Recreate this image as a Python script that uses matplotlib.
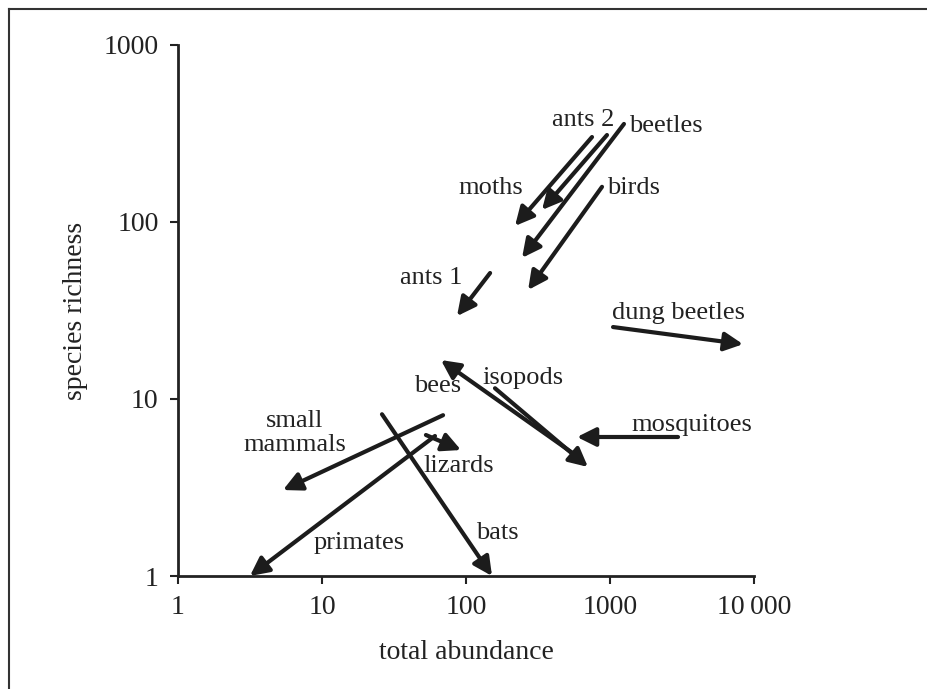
import matplotlib
matplotlib.use('Agg')
import matplotlib.pyplot as plt
from matplotlib.lines import Line2D

plt.rcParams['font.family'] = ['Liberation Serif', 'DejaVu Serif']

# arrow data: tail -> head (total abundance, species richness)
groups = ['ants 2', 'moths', 'beetles', 'birds', 'ants 1', 'dung beetles',
          'mosquitoes', 'bees', 'isopods', 'small\nmammals', 'primates',
          'lizards', 'bats']
tail_x = [750, 953, 1250, 880, 147, 1050, 2966, 560, 159, 69.3, 60.9, 52.7, 26.1]
tail_y = [302, 310, 358, 158, 51.5, 25.5, 6.1, 4.9, 11.5, 8.1, 6.18, 6.26, 8.2]
head_x = [219, 337, 245, 270, 86.6, 8390, 590, 67, 703, 5.36, 3.16, 92.3, 151.6]
head_y = [95, 117, 62.7, 41.3, 29.4, 20.4, 6.1, 16.6, 4.13, 3.06, 1.0, 5.15, 1.0]

# where each label sits
label_x = [649, 149, 2450, 1445, 57.1, 3013, 3709, 63.9, 249, 6.49, 18.1, 89.4, 164]
label_y = [377, 156, 349, 156, 48.3, 30.6, 7.13, 11.8, 13.1, 6.43, 1.54, 4.18, 1.75]

xticks = [1, 10, 100, 1000, 10000]
xtick_labels = ['1', '10', '100', '1000', '10\u2009000']
yticks = [1, 10, 100, 1000]
ytick_labels = ['1', '10', '100', '1000']

fig = plt.figure(figsize=(9.28, 6.89), dpi=100)
ax = fig.add_axes([0.1918, 0.164, 0.8125 - 0.1918, 0.9347 - 0.164])
ax.set_xscale('log')
ax.set_yscale('log')
ax.set_xlim(1, 10000)
ax.set_ylim(1, 1000)

ink = '#1c1c1c'
for i in range(len(groups)):
    ax.annotate('', xy=(head_x[i], head_y[i]), xytext=(tail_x[i], tail_y[i]),
                arrowprops=dict(arrowstyle='-|>', lw=3, color=ink,
                                mutation_scale=28, shrinkA=0, shrinkB=0),
                annotation_clip=False)
    ax.text(label_x[i], label_y[i], groups[i], fontsize=19, color='#222222',
            ha='center', va='center', linespacing=1.1)

ax.set_xticks(xticks)
ax.set_xticklabels(xtick_labels)
ax.set_yticks(yticks)
ax.set_yticklabels(ytick_labels)
ax.minorticks_off()
ax.tick_params(direction='out', length=6, width=1.5, labelsize=20,
               colors='#222222', pad=8)
for s in ['top', 'right']:
    ax.spines[s].set_visible(False)
for s in ['left', 'bottom']:
    ax.spines[s].set_linewidth(2)
    ax.spines[s].set_color('#222222')

ax.set_xlabel('total abundance', fontsize=20, color='#222222', labelpad=14)
ax.set_ylabel('species richness', fontsize=20, color='#222222', labelpad=11)

# outer frame (top and left edges visible in the original)
fig.add_artist(Line2D([9 / 928, 9 / 928], [0, 1 - 9 / 689], color='#333333', lw=1.5))
fig.add_artist(Line2D([9 / 928, 1], [1 - 9 / 689, 1 - 9 / 689], color='#333333', lw=1.5))

fig.savefig('out.png', dpi=100)
